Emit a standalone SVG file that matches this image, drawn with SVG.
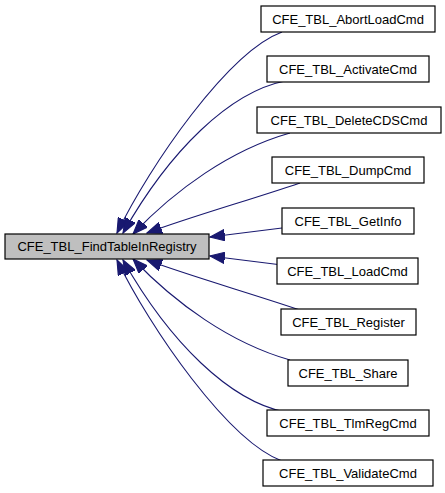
<svg xmlns="http://www.w3.org/2000/svg" width="445" height="493" viewBox="0 0 445 493">
<style>
.n rect{fill:#ffffff;stroke:#000000;stroke-width:1.2}
.n.main rect{fill:#bfbfbf}
.n text{font-family:"Liberation Sans",Arial,sans-serif;font-size:13px;fill:#000000;text-anchor:middle}
.e path{fill:none;stroke:#191970;stroke-width:1.1;marker-end:url(#ah)}
</style>
<defs>
<marker id="ah" markerUnits="userSpaceOnUse" markerWidth="16" markerHeight="12" refX="13" refY="5" orient="auto" viewBox="0 0 14 10">
<path d="M0,0 L13,5 L0,10 z" fill="#191970" stroke="#191970" stroke-width="1"/>
</marker>
</defs>
<rect width="445" height="493" fill="#ffffff"/>
<g id="edges" class="e">
<path d="M282,32 C228,52 150,165 117,233"/>
<path d="M285,81 C230,92 170,150 123,233"/>
<path d="M290,133 C230,150 175,190 133,234"/>
<path d="M300,183 C250,200 190,217 147,233"/>
<path d="M282,228 L210,237"/>
<path d="M282,265 L210,256"/>
<path d="M300,310 C250,293 190,276 147,260"/>
<path d="M290,360 C230,343 175,303 133,259"/>
<path d="M285,412 C230,401 170,343 123,260"/>
<path d="M282,461 C228,441 150,328 117,260"/>
</g>
<g id="node_main" class="n main"><rect x="5" y="234" width="204" height="25"/><text x="107" y="251">CFE_TBL_FindTableInRegistry</text></g>
<g id="node_abortload" class="n"><rect x="261" y="6" width="174" height="26"/><text x="348" y="23.5">CFE_TBL_AbortLoadCmd</text></g>
<g id="node_activate" class="n"><rect x="267" y="56" width="162" height="26"/><text x="348" y="73.5">CFE_TBL_ActivateCmd</text></g>
<g id="node_deletecds" class="n"><rect x="257" y="107" width="184" height="26"/><text x="349" y="124.5">CFE_TBL_DeleteCDSCmd</text></g>
<g id="node_dump" class="n"><rect x="272" y="157" width="152" height="26"/><text x="348" y="174.5">CFE_TBL_DumpCmd</text></g>
<g id="node_getinfo" class="n"><rect x="282" y="208" width="132" height="26"/><text x="348" y="225.5">CFE_TBL_GetInfo</text></g>
<g id="node_load" class="n"><rect x="277" y="258" width="141" height="26"/><text x="347.5" y="275.5">CFE_TBL_LoadCmd</text></g>
<g id="node_register" class="n"><rect x="281" y="309" width="135" height="26"/><text x="348.5" y="326.5">CFE_TBL_Register</text></g>
<g id="node_share" class="n"><rect x="288" y="360" width="120" height="26"/><text x="348" y="377.5">CFE_TBL_Share</text></g>
<g id="node_tlmreg" class="n"><rect x="267" y="410" width="162" height="26"/><text x="348" y="427.5">CFE_TBL_TlmRegCmd</text></g>
<g id="node_validate" class="n"><rect x="263" y="460" width="170" height="26"/><text x="348" y="477.5">CFE_TBL_ValidateCmd</text></g>
</svg>
